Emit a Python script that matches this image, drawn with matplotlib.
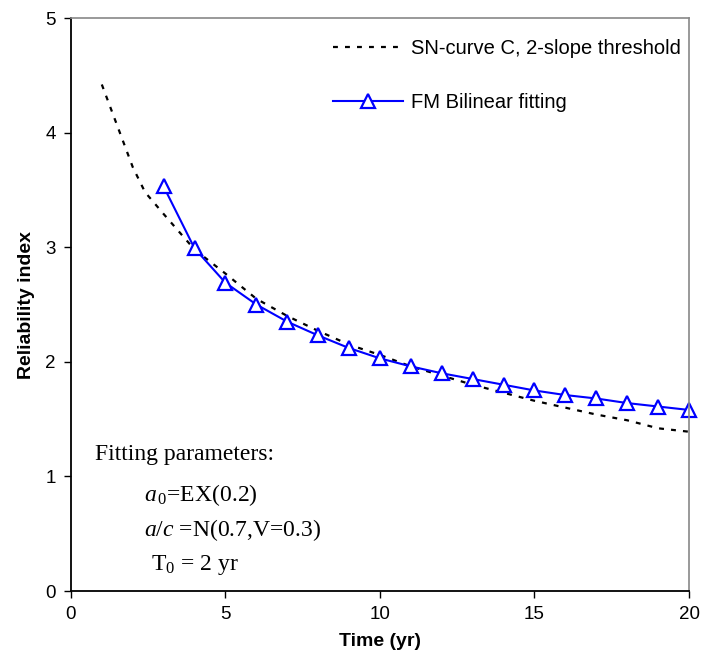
import numpy as np
import matplotlib
matplotlib.use("Agg")
import matplotlib.pyplot as plt

# SN-curve C, 2-slope threshold (dashed)
t_sn = [1, 2, 2.4, 3, 4, 5, 6, 7, 8, 9, 10, 11, 12, 13, 14, 15, 16, 17, 18, 19, 20]
beta_sn = [4.42, 3.70, 3.48, 3.29, 2.98, 2.77, 2.55, 2.40, 2.27, 2.15, 2.06,
           1.96, 1.88, 1.80, 1.73, 1.66, 1.60, 1.54, 1.49, 1.42, 1.39]

# FM bilinear fitting (blue triangles)
t_fm = list(range(3, 21))
beta_fm = [3.53, 2.99, 2.69, 2.50, 2.35, 2.23, 2.12, 2.03, 1.96, 1.90,
           1.85, 1.80, 1.75, 1.71, 1.68, 1.64, 1.61, 1.58]

plt.rcParams['font.family'] = ['Liberation Sans', 'DejaVu Sans']
plt.rcParams['mathtext.fontset'] = 'custom'
plt.rcParams['mathtext.rm'] = 'Liberation Serif'
plt.rcParams['mathtext.it'] = 'Liberation Serif:italic'

fig = plt.figure(figsize=(7.02, 6.60), dpi=100)
ax = fig.add_axes([0.101, 0.1045, 0.8805, 0.8682])

ax.plot(t_sn, beta_sn, color='black', linestyle=(0, (2.2, 3.2)), linewidth=1.6,
        label='SN-curve C, 2-slope threshold')
ax.plot(t_fm, beta_fm, color='#0000ff', linewidth=1.5, marker='^', markersize=10,
        markerfacecolor='white', markeredgecolor='#0000ff', markeredgewidth=1.6,
        label='FM Bilinear fitting', clip_on=False)

ax.set_xlim(0, 20)
ax.set_ylim(0, 5)
ax.set_xticks([0, 5, 10, 15, 20])
ax.set_yticks([0, 1, 2, 3, 4, 5])
ax.tick_params(direction='out', length=5, width=1, labelsize=13.5, pad=6)
for s in ['left', 'bottom']:
    ax.spines[s].set_linewidth(1.3)
for s in ['top', 'right']:
    ax.spines[s].set_color('#888888')
    ax.spines[s].set_linewidth(1.2)

ax.set_xlabel('Time (yr)', fontsize=14, fontweight='bold', labelpad=7)
ax.set_ylabel('Reliability index', fontsize=14, fontweight='bold', labelpad=7)

ax.legend(loc='upper right', frameon=False, fontsize=14.5, handlelength=3.5,
          labelspacing=1.75, handletextpad=0.4, bbox_to_anchor=(1.0, 0.977),
          borderaxespad=0.0, borderpad=0.4)

serif = dict(fontfamily='Liberation Serif', fontsize=17, transform=ax.transData,
             va='center', ha='left')
ax.text(0.78, 1.19, 'Fitting parameters:', **serif)
ax.text(2.35, 0.84, r'$\mathit{a}_{\,0}$=EX(0.2)', **serif)
ax.text(2.35, 0.53, r'$\mathit{a/c}$ =N(0.7,V=0.3)', **serif)
ax.text(2.6, 0.23, r'T$_0$ = 2 yr', **serif)

fig.savefig('out.png', dpi=100)
